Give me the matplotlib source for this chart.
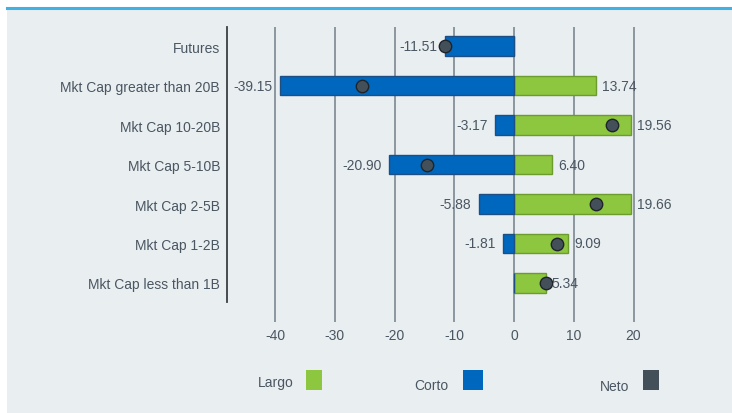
import matplotlib
matplotlib.use("Agg")
import matplotlib.pyplot as plt
from matplotlib.patches import Rectangle
from matplotlib.lines import Line2D

categories = ["Futures", "Mkt Cap greater than 20B", "Mkt Cap 10-20B", "Mkt Cap 5-10B",
              "Mkt Cap 2-5B", "Mkt Cap 1-2B", "Mkt Cap less than 1B"]
largo = [0.0, 13.74, 19.56, 6.40, 19.66, 9.09, 5.34]
corto = [-11.51, -39.15, -3.17, -20.90, -5.88, -1.81, 0.0]
neto = [-11.51, -25.41, 16.39, -14.50, 13.78, 7.28, 5.34]
xticks = [-40, -30, -20, -10, 0, 10, 20]

W, H = 732, 414
BG = "#e9eef1"
TXT = "#4a5661"
GREEN = "#8dc63f"
BLUE = "#0067be"
NETO = "#434f59"
FONT = "Liberation Sans"

fig = plt.figure(figsize=(W/100, H/100), dpi=100)
fig.patch.set_facecolor("white")
fig.add_artist(Rectangle((7/W, -0.01), 1, 1.01 - 9/H, transform=fig.transFigure,
                         facecolor=BG, edgecolor="none", zorder=-10))
fig.add_artist(Line2D([7/W, 1], [1 - 8.5/H, 1 - 8.5/H], transform=fig.transFigure,
                      color="#3fb1e3", lw=2.2))

# axes pixel geometry
x0, x1 = 227, 720
ytop, ybot = 28, 323
ax = fig.add_axes([x0/W, 1 - ybot/H, (x1-x0)/W, (ybot-ytop)/H])
ax.set_facecolor("none")
ppu = 5.975
ax.set_xlim((x0-514)/ppu, (x1-514)/ppu)
step = 39.5
ax.set_ylim((ybot-47)/step, (ytop-47)/step)

for s in ["top", "right", "bottom"]:
    ax.spines[s].set_visible(False)
ax.spines["left"].set_color("#3c3f42")
ax.spines["left"].set_linewidth(1.3)
ax.spines["left"].set_bounds((ytop-47)/step, (303-47)/step)

for t in xticks:
    ax.axvline(t, color="#8c969e", lw=1.4, zorder=0)

ys = list(range(len(categories)))
ax.barh(ys, largo, height=0.5, color=GREEN, edgecolor="#6c9c2e", lw=1, zorder=2)
ax.barh(ys, corto, height=0.5, color=BLUE, edgecolor="#1d4f85", lw=1, zorder=2)
ax.scatter(neto, ys, s=80, color=NETO, edgecolor="#1e2429", lw=1, zorder=4)

fs = 10
for y, v in zip(ys, corto):
    if v != 0:
        ax.text(v - 1.25, y, f"{v:.2f}", ha="right", va="center", fontsize=fs,
                color=TXT, zorder=5, family=FONT)
for y, v in zip(ys, largo):
    if v != 0:
        ax.text(v + 0.95, y, f"{v:.2f}", ha="left", va="center", fontsize=fs,
                color=TXT, zorder=5, family=FONT)

ax.set_yticks(ys)
ax.set_yticklabels(categories, fontsize=fs, color=TXT, family=FONT)
ax.tick_params(axis="y", length=0, pad=5)
ax.set_xticks(xticks)
ax.set_xticklabels([str(t) for t in xticks], fontsize=fs, color=TXT, family=FONT)
ax.tick_params(axis="x", length=0, pad=4)

# legend
leg = [("Largo", 258, 383, 306, 16, GREEN), ("Corto", 414, 386, 463, 20, BLUE),
       ("Neto", 600, 387, 643, 16, NETO)]
for name, tx, ty, sx, sw, c in leg:
    fig.text(tx/W, 1 - ty/H, name, ha="left", va="center", fontsize=fs, color=TXT,
             family=FONT)
    fig.add_artist(Rectangle((sx/W, 1 - 391/H), sw/W, 20/H, transform=fig.transFigure,
                             facecolor=c, edgecolor="none"))

fig.savefig("out.png", dpi=100, facecolor=fig.get_facecolor())
